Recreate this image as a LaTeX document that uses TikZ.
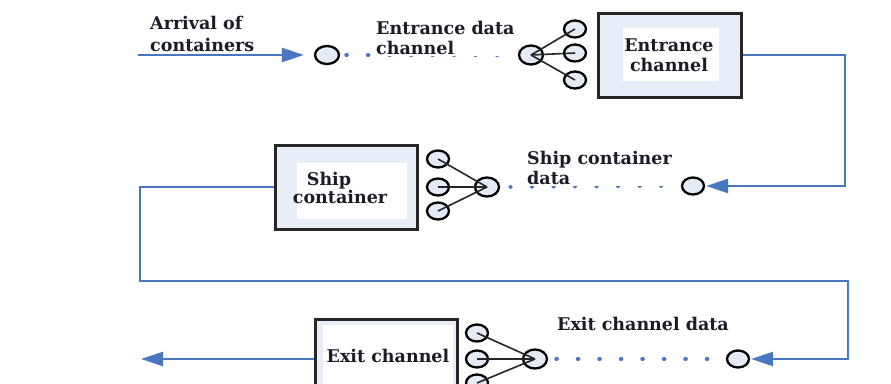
\documentclass[tikz,border=0pt]{standalone}
\usepackage{fontspec}
\setmainfont{DejaVu Serif}
\usetikzlibrary{shapes.geometric,arrows.meta}
\definecolor{conncol}{HTML}{4A76C0}
\definecolor{boxfill}{HTML}{E8EEF8}
\definecolor{circfill}{HTML}{E4EBF6}
\definecolor{txtcol}{HTML}{1C1C28}
\tikzset{
  conn/.style={draw=conncol,line width=2.6pt},
  tip/.style={-{Triangle[length=22pt,width=14pt]}},
  dots/.style={draw=conncol,line width=3.8pt,line cap=round,dash pattern=on 0.8pt off 20.7pt},
  smallc/.style={ellipse,draw=black,line width=2.3pt,fill=circfill,minimum width=22pt,minimum height=17pt,inner sep=0pt},
  hubc/.style={ellipse,draw=black,line width=2.3pt,fill=circfill,minimum width=24pt,minimum height=19pt,inner sep=0pt},
  spoke/.style={draw=black!85,line width=1.6pt},
  bigbox/.style={rectangle,draw=black!85,line width=3pt,fill=boxfill,inner sep=0pt},
  innerbox/.style={rectangle,fill=white,inner sep=0pt},
  btxt/.style={font=\bfseries\fontsize{17.5}{20}\selectfont,text=txtcol,align=center,inner sep=0pt},
  lbl/.style={font=\bfseries\fontsize{17.5}{20}\selectfont,text=txtcol,align=left,anchor=west,inner sep=0pt}
}
\begin{document}
\begin{tikzpicture}[x=1pt,y=-1pt]
\useasboundingbox (0,0) rectangle (891,383);
\clip (0,0) rectangle (891,383);
\fill[white] (0,0) rectangle (891,383);

% ---------- Row 1: entrance ----------
\node[lbl,font=\bfseries\fontsize{17.5}{22}\selectfont] (larr) at (150,34) {Arrival of\\containers};
\coordinate (ain) at (138,55);
\node[smallc,minimum width=24pt,minimum height=18pt] (c1) at (327,55) {};
\node[hubc] (eh) at (531,55) {};
\node[smallc] (e1) at (575,29) {};
\node[smallc] (e2) at (575,53) {};
\node[smallc] (e3) at (575,80) {};
\node[bigbox,minimum width=143pt,minimum height=84pt] (ebox) at (670,55) {};
\node[innerbox,minimum width=96pt,minimum height=53pt] (ewhite) at (671,54) {};
\node[btxt] (etxt) at (669,55) {Entrance\\channel};
\draw[dots,dash phase=-6pt] (c1.east) -- (eh.west);
\node[lbl,fill=white,inner ysep=1pt] (ledata) at (376,38) {Entrance data\\channel};
\draw[spoke] (eh.center) -- (e1.center);
\draw[spoke] (eh.center) -- (e2.center);
\draw[spoke] (eh.center) -- (e3.center);
\draw[conn,tip,shorten >=10pt] (ain) -- (c1.west);

% ---------- Row 2: ship ----------
\node[smallc] (sc1) at (693,186) {};
\node[hubc] (sh) at (487,187) {};
\node[smallc] (s1) at (438,159) {};
\node[smallc] (s2) at (438,187) {};
\node[smallc] (s3) at (438,211) {};
\node[bigbox,minimum width=142pt,minimum height=84pt] (sbox) at (346,187) {};
\node[innerbox,minimum width=110pt,minimum height=56pt] (swhite) at (352,191) {};
\node[btxt,font=\bfseries\fontsize{17.5}{13}\selectfont] (stext) at (340,188) {\hspace*{-22pt}Ship\\container};
\draw[dots,dash phase=-10pt] (sh.east) -- (sc1.west);
\node[lbl,fill=white,inner ysep=1pt] (lsdata) at (527,168) {Ship container\\data};
\draw[spoke] (sh.center) -- (s1.center);
\draw[spoke] (sh.center) -- (s2.center);
\draw[spoke] (sh.center) -- (s3.center);
\coordinate (r1) at (845,55);
\draw[conn,tip,shorten >=1pt] (ebox.east) -- (r1) |- (sc1.east);

% ---------- Row 3: exit ----------
\node[smallc] (xc1) at (738,359) {};
\node[hubc] (xh) at (535,359) {};
\node[smallc] (x1) at (477,333) {};
\node[smallc] (x2) at (477,359) {};
\node[smallc] (x3) at (477,383) {};
\node[bigbox,minimum width=142pt,minimum height=84pt,anchor=north west] (xbox) at (314,318) {};
\node[innerbox,minimum width=130pt,minimum height=70pt,anchor=north west] (xwhite) at (323,325) {};
\node[btxt] (xtext) at (388,356) {Exit channel};
\draw[dots,dash phase=-8pt] (xh.east) -- (xc1.west);
\node[lbl] (lxdata) at (557,324) {Exit channel data};
\draw[spoke] (xh.center) -- (x1.center);
\draw[spoke] (xh.center) -- (x2.center);
\draw[spoke] (xh.center) -- (x3.center);
\coordinate (l1) at (140,187);
\coordinate (l2) at (140,281);
\coordinate (r2) at (848,281);
\draw[conn,tip,shorten >=1pt] (sbox.west) -- (l1) -- (l2) -- (r2) |- (xc1.east);
\coordinate (xout) at (141,359);
\draw[conn,tip] (xbox.west |- xh) -- (xout);
\end{tikzpicture}
\end{document}
